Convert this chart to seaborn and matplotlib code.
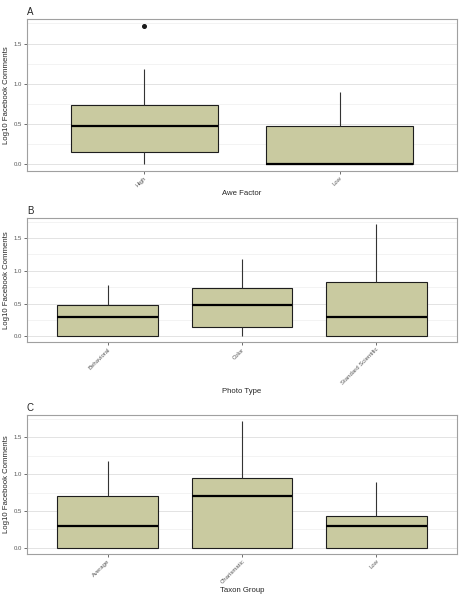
import matplotlib
matplotlib.use("Agg")
import matplotlib.pyplot as plt
import numpy as np
import pandas as pd
import seaborn as sns

# log10 facebook comments per group
awe_levels = ["High", "Low"]
awe_high = [0.0, 0.0, 0.15, 0.30, 0.48, 0.60, 0.74, 1.18, 1.72]
awe_low = [0.0, 0.0, 0.0, 0.0, 0.0, 0.30, 0.48, 0.48, 0.90]

photo_levels = ["Behavioral", "Color", "Standard Scientific"]
photo_behavioral = [0.0, 0.0, 0.0, 0.30, 0.30, 0.30, 0.48, 0.60, 0.78]
photo_color = [0.0, 0.0, 0.15, 0.30, 0.48, 0.60, 0.74, 0.90, 1.18]
photo_standard = [0.0, 0.0, 0.0, 0.30, 0.30, 0.48, 0.83, 1.0, 1.72]

taxon_levels = ["Average", "Charismatic", "Low"]
taxon_average = [0.0, 0.0, 0.0, 0.30, 0.30, 0.48, 0.70, 0.85, 1.18]
taxon_charismatic = [0.0, 0.0, 0.0, 0.48, 0.70, 0.85, 0.95, 1.3, 1.72]
taxon_low = [0.0, 0.0, 0.0, 0.30, 0.30, 0.30, 0.43, 0.60, 0.90]

panels = [
    ("A", "Awe Factor", awe_levels, [awe_high, awe_low]),
    ("B", "Photo Type", photo_levels, [photo_behavioral, photo_color, photo_standard]),
    ("C", "Taxon Group", taxon_levels, [taxon_average, taxon_charismatic, taxon_low]),
]

sns.set_style("white")
plt.rcParams["font.family"] = ["Liberation Sans", "DejaVu Sans"]

fill = "#C9CAA0"
fig = plt.figure(figsize=(4.64, 6.0), dpi=100)
positions = [
    [27 / 464, 1 - 171 / 600, 430 / 464, 152 / 600],
    [27 / 464, 1 - 342 / 600, 430 / 464, 124 / 600],
    [27 / 464, 1 - 554 / 600, 430 / 464, 139 / 600],
]

for (letter, xlabel, levels, groups), pos in zip(panels, positions):
    ax = fig.add_axes(pos)
    df = pd.DataFrame({
        "group": np.repeat(levels, [len(g) for g in groups]),
        "value": np.concatenate(groups),
    })
    ax.set_axisbelow(True)
    ax.yaxis.set_major_locator(plt.MultipleLocator(0.5))
    ax.yaxis.set_minor_locator(plt.MultipleLocator(0.25))
    ax.grid(which="major", color="#E3E3E3", linewidth=0.7)
    ax.grid(which="minor", axis="y", color="#EFEFEF", linewidth=0.5)
    sns.boxplot(data=df, x="group", y="value", order=levels, ax=ax,
                color=fill, saturation=1, width=0.75, showcaps=False,
                linecolor="#1e1e1e", linewidth=0.8,
                medianprops=dict(color="black", linewidth=1.6),
                whiskerprops=dict(color="#333333", linewidth=0.8),
                flierprops=dict(marker="o", markersize=2.6, markerfacecolor="#1a1a1a",
                                markeredgecolor="#1a1a1a"))
    ymax = df["value"].max()
    ax.set_ylim(-0.05 * ymax, 1.05 * ymax)
    ax.set_xlim(-0.6, len(levels) - 1 + 0.6)
    for s in ax.spines.values():
        s.set_visible(True)
        s.set_color("#a0a0a0")
        s.set_linewidth(0.8)
    ax.tick_params(axis="both", which="major", length=2.2, width=0.6, color="#555555",
                   labelsize=4.3, labelcolor="#555555", pad=1.2, bottom=True, left=True)
    ax.tick_params(which="minor", length=0)
    ax.set_yticks([0.0, 0.5, 1.0, 1.5])
    ax.set_yticklabels(["0.0", "0.5", "1.0", "1.5"])
    for lab in ax.get_xticklabels():
        lab.set_rotation(45)
        lab.set_ha("right")
        lab.set_rotation_mode("anchor")
    ax.set_xlabel(xlabel, fontsize=5.6, labelpad=1.5)
    ax.set_ylabel("Log10 Facebook Comments", fontsize=5.6, labelpad=2.5)
    ax.set_title(letter, loc="left", fontsize=7, pad=3)

fig.savefig("out.png", dpi=100)
